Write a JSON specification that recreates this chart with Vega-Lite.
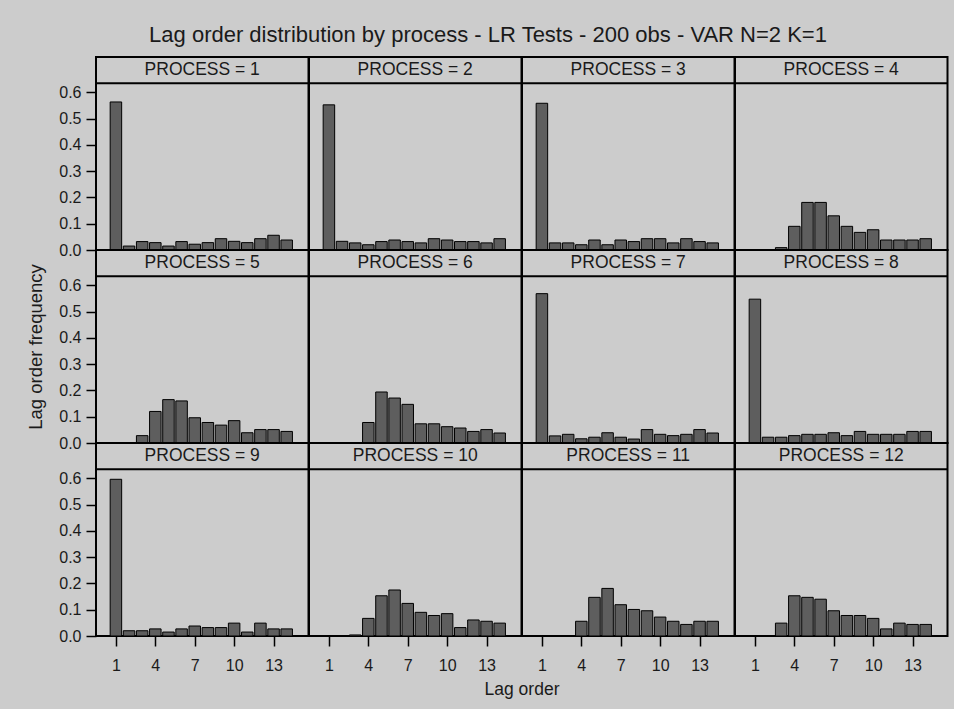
{
  "$schema": "https://vega.github.io/schema/vega-lite/v6.json",
  "background": "#cccccc",
  "padding": {"left": 26, "top": 24, "right": 4, "bottom": 10},
  "bounds": "flush",
  "title": {"text": "Lag order distribution by process - LR Tests - 200 obs - VAR N=2 K=1", "anchor": "middle", "frame": "bounds", "offset": 9},
  "data": {"values": [
    {"process":1,"lag":1,"freq":0.563},{"process":1,"lag":2,"freq":0.015},{"process":1,"lag":3,"freq":0.032},{"process":1,"lag":4,"freq":0.028},{"process":1,"lag":5,"freq":0.015},{"process":1,"lag":6,"freq":0.032},{"process":1,"lag":7,"freq":0.022},{"process":1,"lag":8,"freq":0.028},{"process":1,"lag":9,"freq":0.043},{"process":1,"lag":10,"freq":0.033},{"process":1,"lag":11,"freq":0.028},{"process":1,"lag":12,"freq":0.043},{"process":1,"lag":13,"freq":0.056},{"process":1,"lag":14,"freq":0.038},
    {"process":2,"lag":1,"freq":0.552},{"process":2,"lag":2,"freq":0.033},{"process":2,"lag":3,"freq":0.027},{"process":2,"lag":4,"freq":0.020},{"process":2,"lag":5,"freq":0.032},{"process":2,"lag":6,"freq":0.038},{"process":2,"lag":7,"freq":0.032},{"process":2,"lag":8,"freq":0.027},{"process":2,"lag":9,"freq":0.043},{"process":2,"lag":10,"freq":0.038},{"process":2,"lag":11,"freq":0.032},{"process":2,"lag":12,"freq":0.032},{"process":2,"lag":13,"freq":0.027},{"process":2,"lag":14,"freq":0.043},
    {"process":3,"lag":1,"freq":0.558},{"process":3,"lag":2,"freq":0.027},{"process":3,"lag":3,"freq":0.027},{"process":3,"lag":4,"freq":0.020},{"process":3,"lag":5,"freq":0.038},{"process":3,"lag":6,"freq":0.020},{"process":3,"lag":7,"freq":0.038},{"process":3,"lag":8,"freq":0.032},{"process":3,"lag":9,"freq":0.043},{"process":3,"lag":10,"freq":0.043},{"process":3,"lag":11,"freq":0.027},{"process":3,"lag":12,"freq":0.043},{"process":3,"lag":13,"freq":0.032},{"process":3,"lag":14,"freq":0.027},
    {"process":4,"lag":3,"freq":0.009},{"process":4,"lag":4,"freq":0.090},{"process":4,"lag":5,"freq":0.181},{"process":4,"lag":6,"freq":0.181},{"process":4,"lag":7,"freq":0.130},{"process":4,"lag":8,"freq":0.090},{"process":4,"lag":9,"freq":0.067},{"process":4,"lag":10,"freq":0.077},{"process":4,"lag":11,"freq":0.038},{"process":4,"lag":12,"freq":0.038},{"process":4,"lag":13,"freq":0.038},{"process":4,"lag":14,"freq":0.043},
    {"process":5,"lag":3,"freq":0.028},{"process":5,"lag":4,"freq":0.120},{"process":5,"lag":5,"freq":0.165},{"process":5,"lag":6,"freq":0.160},{"process":5,"lag":7,"freq":0.096},{"process":5,"lag":8,"freq":0.078},{"process":5,"lag":9,"freq":0.068},{"process":5,"lag":10,"freq":0.085},{"process":5,"lag":11,"freq":0.039},{"process":5,"lag":12,"freq":0.051},{"process":5,"lag":13,"freq":0.051},{"process":5,"lag":14,"freq":0.044},
    {"process":6,"lag":4,"freq":0.078},{"process":6,"lag":5,"freq":0.194},{"process":6,"lag":6,"freq":0.171},{"process":6,"lag":7,"freq":0.147},{"process":6,"lag":8,"freq":0.073},{"process":6,"lag":9,"freq":0.073},{"process":6,"lag":10,"freq":0.062},{"process":6,"lag":11,"freq":0.057},{"process":6,"lag":12,"freq":0.044},{"process":6,"lag":13,"freq":0.051},{"process":6,"lag":14,"freq":0.038},
    {"process":7,"lag":1,"freq":0.568},{"process":7,"lag":2,"freq":0.027},{"process":7,"lag":3,"freq":0.033},{"process":7,"lag":4,"freq":0.016},{"process":7,"lag":5,"freq":0.022},{"process":7,"lag":6,"freq":0.039},{"process":7,"lag":7,"freq":0.022},{"process":7,"lag":8,"freq":0.015},{"process":7,"lag":9,"freq":0.051},{"process":7,"lag":10,"freq":0.033},{"process":7,"lag":11,"freq":0.028},{"process":7,"lag":12,"freq":0.033},{"process":7,"lag":13,"freq":0.051},{"process":7,"lag":14,"freq":0.038},
    {"process":8,"lag":1,"freq":0.547},{"process":8,"lag":2,"freq":0.022},{"process":8,"lag":3,"freq":0.022},{"process":8,"lag":4,"freq":0.028},{"process":8,"lag":5,"freq":0.033},{"process":8,"lag":6,"freq":0.033},{"process":8,"lag":7,"freq":0.039},{"process":8,"lag":8,"freq":0.028},{"process":8,"lag":9,"freq":0.044},{"process":8,"lag":10,"freq":0.033},{"process":8,"lag":11,"freq":0.033},{"process":8,"lag":12,"freq":0.033},{"process":8,"lag":13,"freq":0.044},{"process":8,"lag":14,"freq":0.044},
    {"process":9,"lag":1,"freq":0.596},{"process":9,"lag":2,"freq":0.020},{"process":9,"lag":3,"freq":0.020},{"process":9,"lag":4,"freq":0.027},{"process":9,"lag":5,"freq":0.015},{"process":9,"lag":6,"freq":0.027},{"process":9,"lag":7,"freq":0.038},{"process":9,"lag":8,"freq":0.032},{"process":9,"lag":9,"freq":0.032},{"process":9,"lag":10,"freq":0.049},{"process":9,"lag":11,"freq":0.015},{"process":9,"lag":12,"freq":0.049},{"process":9,"lag":13,"freq":0.027},{"process":9,"lag":14,"freq":0.027},
    {"process":10,"lag":3,"freq":0.004},{"process":10,"lag":4,"freq":0.067},{"process":10,"lag":5,"freq":0.153},{"process":10,"lag":6,"freq":0.175},{"process":10,"lag":7,"freq":0.124},{"process":10,"lag":8,"freq":0.090},{"process":10,"lag":9,"freq":0.078},{"process":10,"lag":10,"freq":0.085},{"process":10,"lag":11,"freq":0.032},{"process":10,"lag":12,"freq":0.061},{"process":10,"lag":13,"freq":0.056},{"process":10,"lag":14,"freq":0.049},
    {"process":11,"lag":4,"freq":0.056},{"process":11,"lag":5,"freq":0.147},{"process":11,"lag":6,"freq":0.181},{"process":11,"lag":7,"freq":0.119},{"process":11,"lag":8,"freq":0.101},{"process":11,"lag":9,"freq":0.096},{"process":11,"lag":10,"freq":0.072},{"process":11,"lag":11,"freq":0.056},{"process":11,"lag":12,"freq":0.044},{"process":11,"lag":13,"freq":0.056},{"process":11,"lag":14,"freq":0.056},
    {"process":12,"lag":3,"freq":0.049},{"process":12,"lag":4,"freq":0.153},{"process":12,"lag":5,"freq":0.147},{"process":12,"lag":6,"freq":0.140},{"process":12,"lag":7,"freq":0.096},{"process":12,"lag":8,"freq":0.078},{"process":12,"lag":9,"freq":0.078},{"process":12,"lag":10,"freq":0.067},{"process":12,"lag":11,"freq":0.027},{"process":12,"lag":12,"freq":0.049},{"process":12,"lag":13,"freq":0.044},{"process":12,"lag":14,"freq":0.044}
  ]},
  "transform": [
    {"calculate": "ceil(datum.process / 4)", "as": "panelRow"},
    {"calculate": "(datum.process - 1) % 4 + 1", "as": "panelCol"}
  ],
  "facet": {
    "row": {"field": "panelRow", "type": "ordinal", "title": "Lag order frequency",
            "header": {"labels": false, "titleOrient": "left", "titleAngle": -90, "titlePadding": -16, "titleFontSize": 18.5}},
    "column": {"field": "panelCol", "type": "ordinal", "title": "Lag order",
               "header": {"labels": false, "titleOrient": "bottom", "titlePadding": -2, "titleFontSize": 17.5}}
  },
  "spacing": 0,
  "spec": {
    "width": 212.5,
    "height": 193,
    "layer": [
      {
        "mark": {"type": "bar", "size": 11.5, "fill": "#5e5e5e", "stroke": "#000000", "strokeWidth": 1},
        "encoding": {
          "x": {"field": "lag", "type": "quantitative", "title": null,
                "scale": {"domain": [-0.135, 15.28], "nice": false, "zero": false},
                "axis": {"values": [1, 4, 7, 10, 13], "labelOverlap": false, "labelPadding": 11}},
          "y": {"field": "freq", "type": "quantitative", "title": null,
                "scale": {"domain": [0, 0.734], "nice": false},
                "axis": {"values": [0, 0.1, 0.2, 0.3, 0.4, 0.5, 0.6], "format": ".1f", "labelOverlap": false}}
        }
      },
      {
        "transform": [{"aggregate": [{"op": "count", "as": "n"}], "groupby": ["process"]}],
        "mark": {"type": "rule", "stroke": "#000000", "strokeWidth": 2},
        "encoding": {
          "y": {"datum": 0.634, "title": null,
                "axis": {"values": [0, 0.1, 0.2, 0.3, 0.4, 0.5, 0.6], "format": ".1f", "labelOverlap": false}}
        }
      },
      {
        "transform": [
          {"aggregate": [{"op": "count", "as": "n"}], "groupby": ["process"]},
          {"calculate": "'PROCESS = ' + datum.process", "as": "label"}
        ],
        "mark": {"type": "text", "font": "Liberation Sans", "fontSize": 17.5, "color": "#1a1a1a", "baseline": "middle", "align": "center"},
        "encoding": {
          "x": {"datum": 7.57, "title": null,
                "axis": {"values": [1, 4, 7, 10, 13], "labelOverlap": false, "labelPadding": 11}},
          "y": {"datum": 0.684, "title": null,
                "axis": {"values": [0, 0.1, 0.2, 0.3, 0.4, 0.5, 0.6], "format": ".1f", "labelOverlap": false}},
          "text": {"field": "label"}
        }
      }
    ]
  },
  "config": {
    "view": {"stroke": "#000000", "strokeWidth": 2},
    "axis": {"domain": false, "grid": false, "tickColor": "#000000", "tickSize": 10, "tickWidth": 1.5,
             "labelFont": "Liberation Sans", "labelFontSize": 16, "labelColor": "#1a1a1a", "labelPadding": 5},
    "header": {"titleFont": "Liberation Sans", "titleFontSize": 18, "titleFontWeight": "normal", "titleColor": "#1a1a1a"},
    "title": {"font": "Liberation Sans", "fontSize": 22, "fontWeight": "normal", "color": "#1a1a1a"}
  }
}
